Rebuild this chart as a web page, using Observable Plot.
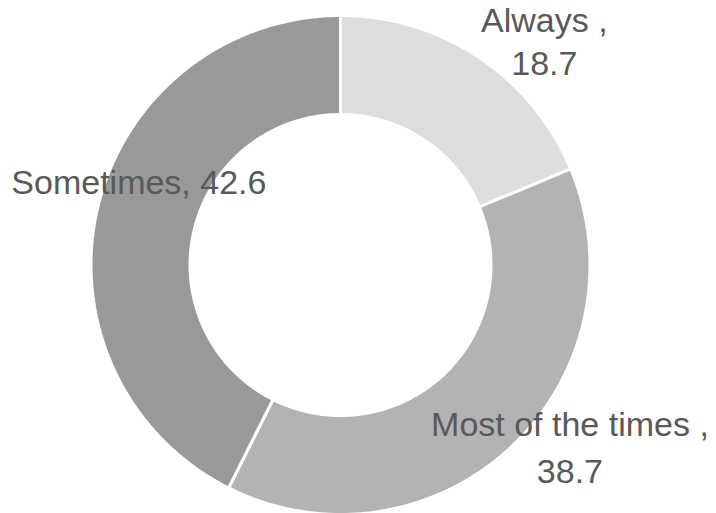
<!DOCTYPE html>
<html>
<head>
<meta charset="utf-8">
<script src="https://cdn.jsdelivr.net/npm/d3@7"></script>
<script src="https://cdn.jsdelivr.net/npm/@observablehq/plot@0.6"></script>
<style>
  html, body { margin: 0; padding: 0; background: #ffffff; }
</style>
</head>
<body>
<div id="chart"></div>
<script>
// ---- data ----
const categories = ["Always", "Most of the times", "Sometimes"];
const values = [18.7, 38.7, 42.6];
const labelNames = ["Always ", "Most of the times ", "Sometimes"];
const labelSeparators = ["\n", "\n", " "];
const colors = ["#dddddd", "#b3b3b3", "#999999"];

// ---- geometry (layout constants, pixel units) ----
const W = 716, H = 513;
const cx = 340, cy = 264.5;
const R = 249.5, r = 150.5, rLabel = 200;

const total = d3.sum(values);
let acc = 0;
const slices = categories.map((c, i) => {
  const a0 = acc / total * 2 * Math.PI;
  acc += values[i];
  const a1 = acc / total * 2 * Math.PI;
  return {category: c, value: values[i], a0, a1, mid: (a0 + a1) / 2,
          label: `${labelNames[i]},${labelSeparators[i]}${values[i]}`};
});

// polygon points for each ring segment (angle clockwise from top, y up)
const pts = [];
const N = 120;
for (const s of slices) {
  for (let k = 0; k <= N; ++k) {
    const a = s.a0 + (s.a1 - s.a0) * k / N;
    pts.push({category: s.category, x: R * Math.sin(a), y: R * Math.cos(a)});
  }
  for (let k = N; k >= 0; --k) {
    const a = s.a0 + (s.a1 - s.a0) * k / N;
    pts.push({category: s.category, x: r * Math.sin(a), y: r * Math.cos(a)});
  }
}
const labelPos = slices.map(s => ({...s, x: rLabel * Math.sin(s.mid), y: rLabel * Math.cos(s.mid)}));

const textStyle = {fontSize: 34, fill: "#595959", textAnchor: "middle", lineAnchor: "bottom", text: "label", x: "x", y: "y"};
const offsets = [
  {dx: 93, dy: -24, lineHeight: 1.24},
  {dx: 93, dy: 72, lineHeight: 1.4},
  {dx: -7, dy: -25, lineHeight: 1.2}
];

const chart = Plot.plot({
  width: W,
  height: H,
  margin: 0,
  x: {domain: [-cx, W - cx], axis: null},
  y: {domain: [-(H - cy), cy], axis: null},
  color: {domain: categories, range: colors},
  style: {fontFamily: "'Liberation Sans', Arial, sans-serif", background: "#ffffff"},
  marks: [
    Plot.line(pts, {x: "x", y: "y", z: "category", fill: "category", stroke: "#ffffff", strokeWidth: 3, curve: "linear-closed"}),
    ...labelPos.map((d, i) => Plot.text([d], {...textStyle, ...offsets[i]}))
  ]
});
document.getElementById("chart").append(chart);
</script>
</body>
</html>
